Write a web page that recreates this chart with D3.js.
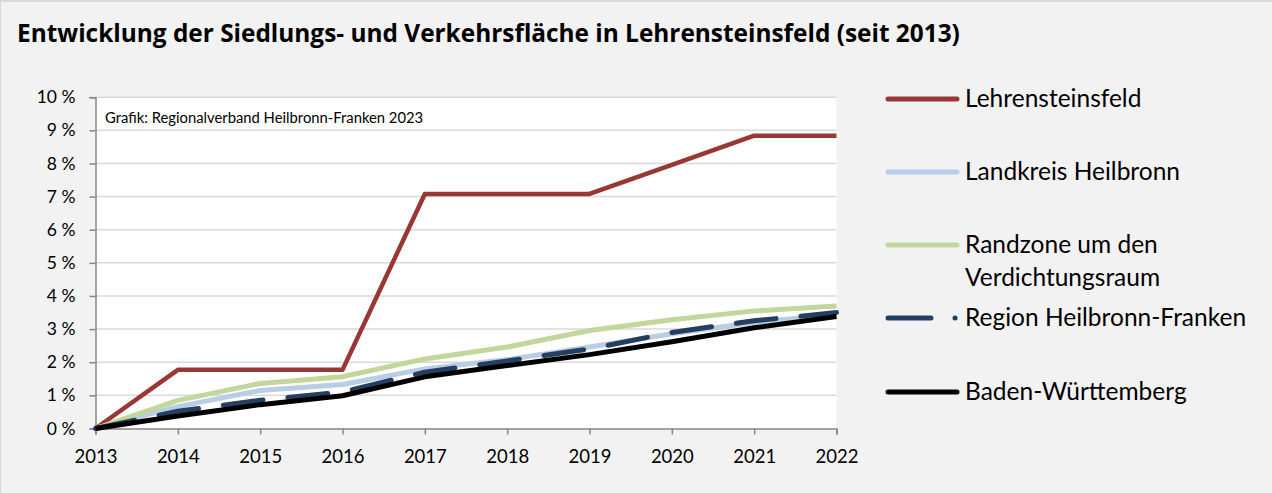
<!DOCTYPE html>
<html>
<head>
<meta charset="utf-8">
<script src="https://cdn.jsdelivr.net/npm/d3@7"></script>
<style>
  html, body { margin: 0; padding: 0; background: #f2f2f2; }
  svg { display: block; font-family: Lato, "Open Sans", sans-serif; }
</style>
</head>
<body>
<svg id="chart" width="1272" height="493"></svg>
<script>
// Years on the horizontal axis
const years = [2013, 2014, 2015, 2016, 2017, 2018, 2019, 2020, 2021, 2022];

// Growth of settlement and traffic area since 2013, in percent
const lehrensteinsfeld = [0, 1.77, 1.77, 1.77, 7.08, 7.08, 7.08, 7.96, 8.84, 8.84];
const landkreisHeilbronn = [0, 0.66, 1.15, 1.33, 1.80, 2.08, 2.46, 2.86, 3.20, 3.45];
const randzone = [0, 0.85, 1.36, 1.56, 2.10, 2.46, 2.96, 3.28, 3.55, 3.70];
const regionHNF = [0, 0.52, 0.85, 1.10, 1.70, 2.04, 2.40, 2.90, 3.25, 3.50];
const badenWuerttemberg = [0, 0.38, 0.72, 0.99, 1.56, 1.90, 2.23, 2.62, 3.04, 3.38];

// Percent ticks on the vertical axis
const yTicks = [0, 1, 2, 3, 4, 5, 6, 7, 8, 9, 10];

const series = [
  { name: ["Lehrensteinsfeld"], values: lehrensteinsfeld, color: "#993734", width: 4.5, legendY: 99 },
  { name: ["Landkreis Heilbronn"], values: landkreisHeilbronn, color: "#b9cde5", width: 5, legendY: 172 },
  { name: ["Randzone um den", "Verdichtungsraum"], values: randzone, color: "#c3d69b", width: 5, legendY: 245 },
  { name: ["Region Heilbronn-Franken"], values: regionHNF, color: "#243f60", width: 5, legendY: 318, dash: "40,25" },
  { name: ["Baden-Württemberg"], values: badenWuerttemberg, color: "#000000", width: 5, legendY: 392 }
];

const svg = d3.select("#chart");

// Frame
svg.append("rect").attr("x", 0).attr("y", 0).attr("width", 1272).attr("height", 493).attr("fill", "#f2f2f2");
svg.append("line").attr("x1", 0).attr("x2", 1272).attr("y1", 1).attr("y2", 1)
  .attr("stroke", "#d9d9d9").attr("stroke-width", 2);
svg.append("line").attr("x1", 0.5).attr("x2", 0.5).attr("y1", 0).attr("y2", 493)
  .attr("stroke", "#d9d9d9").attr("stroke-width", 1);

// Title
svg.append("text")
  .attr("x", 17).attr("y", 41.5)
  .attr("font-family", "'Open Sans', sans-serif")
  .attr("font-size", 24.4).attr("font-weight", 700).attr("fill", "#000")
  .text("Entwicklung der Siedlungs- und Verkehrsfläche in Lehrensteinsfeld (seit 2013)");

const x = d3.scaleLinear().domain([2013, 2022]).range([95.5, 836.5]);
const y = d3.scaleLinear().domain([0, 10]).range([428.5, 97.2]);

// Plot area
svg.append("rect")
  .attr("x", x(2013)).attr("y", y(10))
  .attr("width", x(2022) - x(2013)).attr("height", y(0) - y(10))
  .attr("fill", "#ffffff");

// Horizontal gridlines
svg.append("g").selectAll("line").data(yTicks.filter(d => d > 0)).join("line")
  .attr("x1", x(2013)).attr("x2", x(2022))
  .attr("y1", d => y(d)).attr("y2", d => y(d))
  .attr("stroke", "#d9d9d9").attr("stroke-width", 1.5);

// Y axis
const yAxis = d3.axisLeft(y).tickValues(yTicks).tickSize(6).tickPadding(14)
  .tickFormat(d => d + " %");
const gy = svg.append("g").attr("transform", `translate(${x(2013)},0)`).call(yAxis);
gy.select(".domain").attr("stroke", "#868686").attr("stroke-width", 1.5);
gy.selectAll(".tick line").attr("stroke", "#868686").attr("stroke-width", 1.5);
gy.selectAll(".tick text").attr("font-size", 17.5).attr("fill", "#000")
  .attr("font-family", "Lato, 'Open Sans', sans-serif");

// X axis
const xAxis = d3.axisBottom(x).tickValues(years).tickSize(6).tickPadding(15)
  .tickFormat(d3.format("d"));
const gx = svg.append("g").attr("transform", `translate(0,${y(0)})`).call(xAxis);
gx.select(".domain").attr("stroke", "#868686").attr("stroke-width", 1.5);
gx.selectAll(".tick line").attr("stroke", "#868686").attr("stroke-width", 1.5);
gx.selectAll(".tick text").attr("font-size", 18.5).attr("fill", "#000")
  .attr("font-family", "Lato, 'Open Sans', sans-serif");

// Source note
svg.append("text")
  .attr("x", 105).attr("y", 122.5)
  .attr("font-size", 14.8).attr("fill", "#000")
  .text("Grafik: Regionalverband Heilbronn-Franken 2023");

// Series lines
const line = d3.line().x((d, i) => x(years[i])).y(d => y(d));
svg.append("g").selectAll("path").data(series).join("path")
  .attr("d", s => line(s.values))
  .attr("fill", "none")
  .attr("stroke", s => s.color)
  .attr("stroke-width", s => s.width)
  .attr("stroke-linejoin", "round")
  .attr("stroke-linecap", s => s.dash ? "round" : "butt")
  .attr("stroke-dasharray", s => s.dash || null);

// Legend
const legend = svg.append("g").selectAll("g").data(series).join("g")
  .attr("transform", s => `translate(0,${s.legendY})`);
legend.append("line")
  .attr("x1", 888).attr("x2", s => s.dash ? 960 : 957).attr("y1", 0).attr("y2", 0)
  .attr("stroke", s => s.color).attr("stroke-width", 5)
  .attr("stroke-linecap", "round")
  .attr("stroke-dasharray", s => s.dash ? "43,24,0.1,40" : null);
legend.append("text")
  .attr("x", 965).attr("y", 8)
  .attr("font-size", 24.5).attr("fill", "#000")
  .selectAll("tspan").data(s => s.name).join("tspan")
  .attr("x", 965).attr("dy", (d, i) => i === 0 ? 0 : 33.4)
  .text(d => d);
</script>
</body>
</html>
